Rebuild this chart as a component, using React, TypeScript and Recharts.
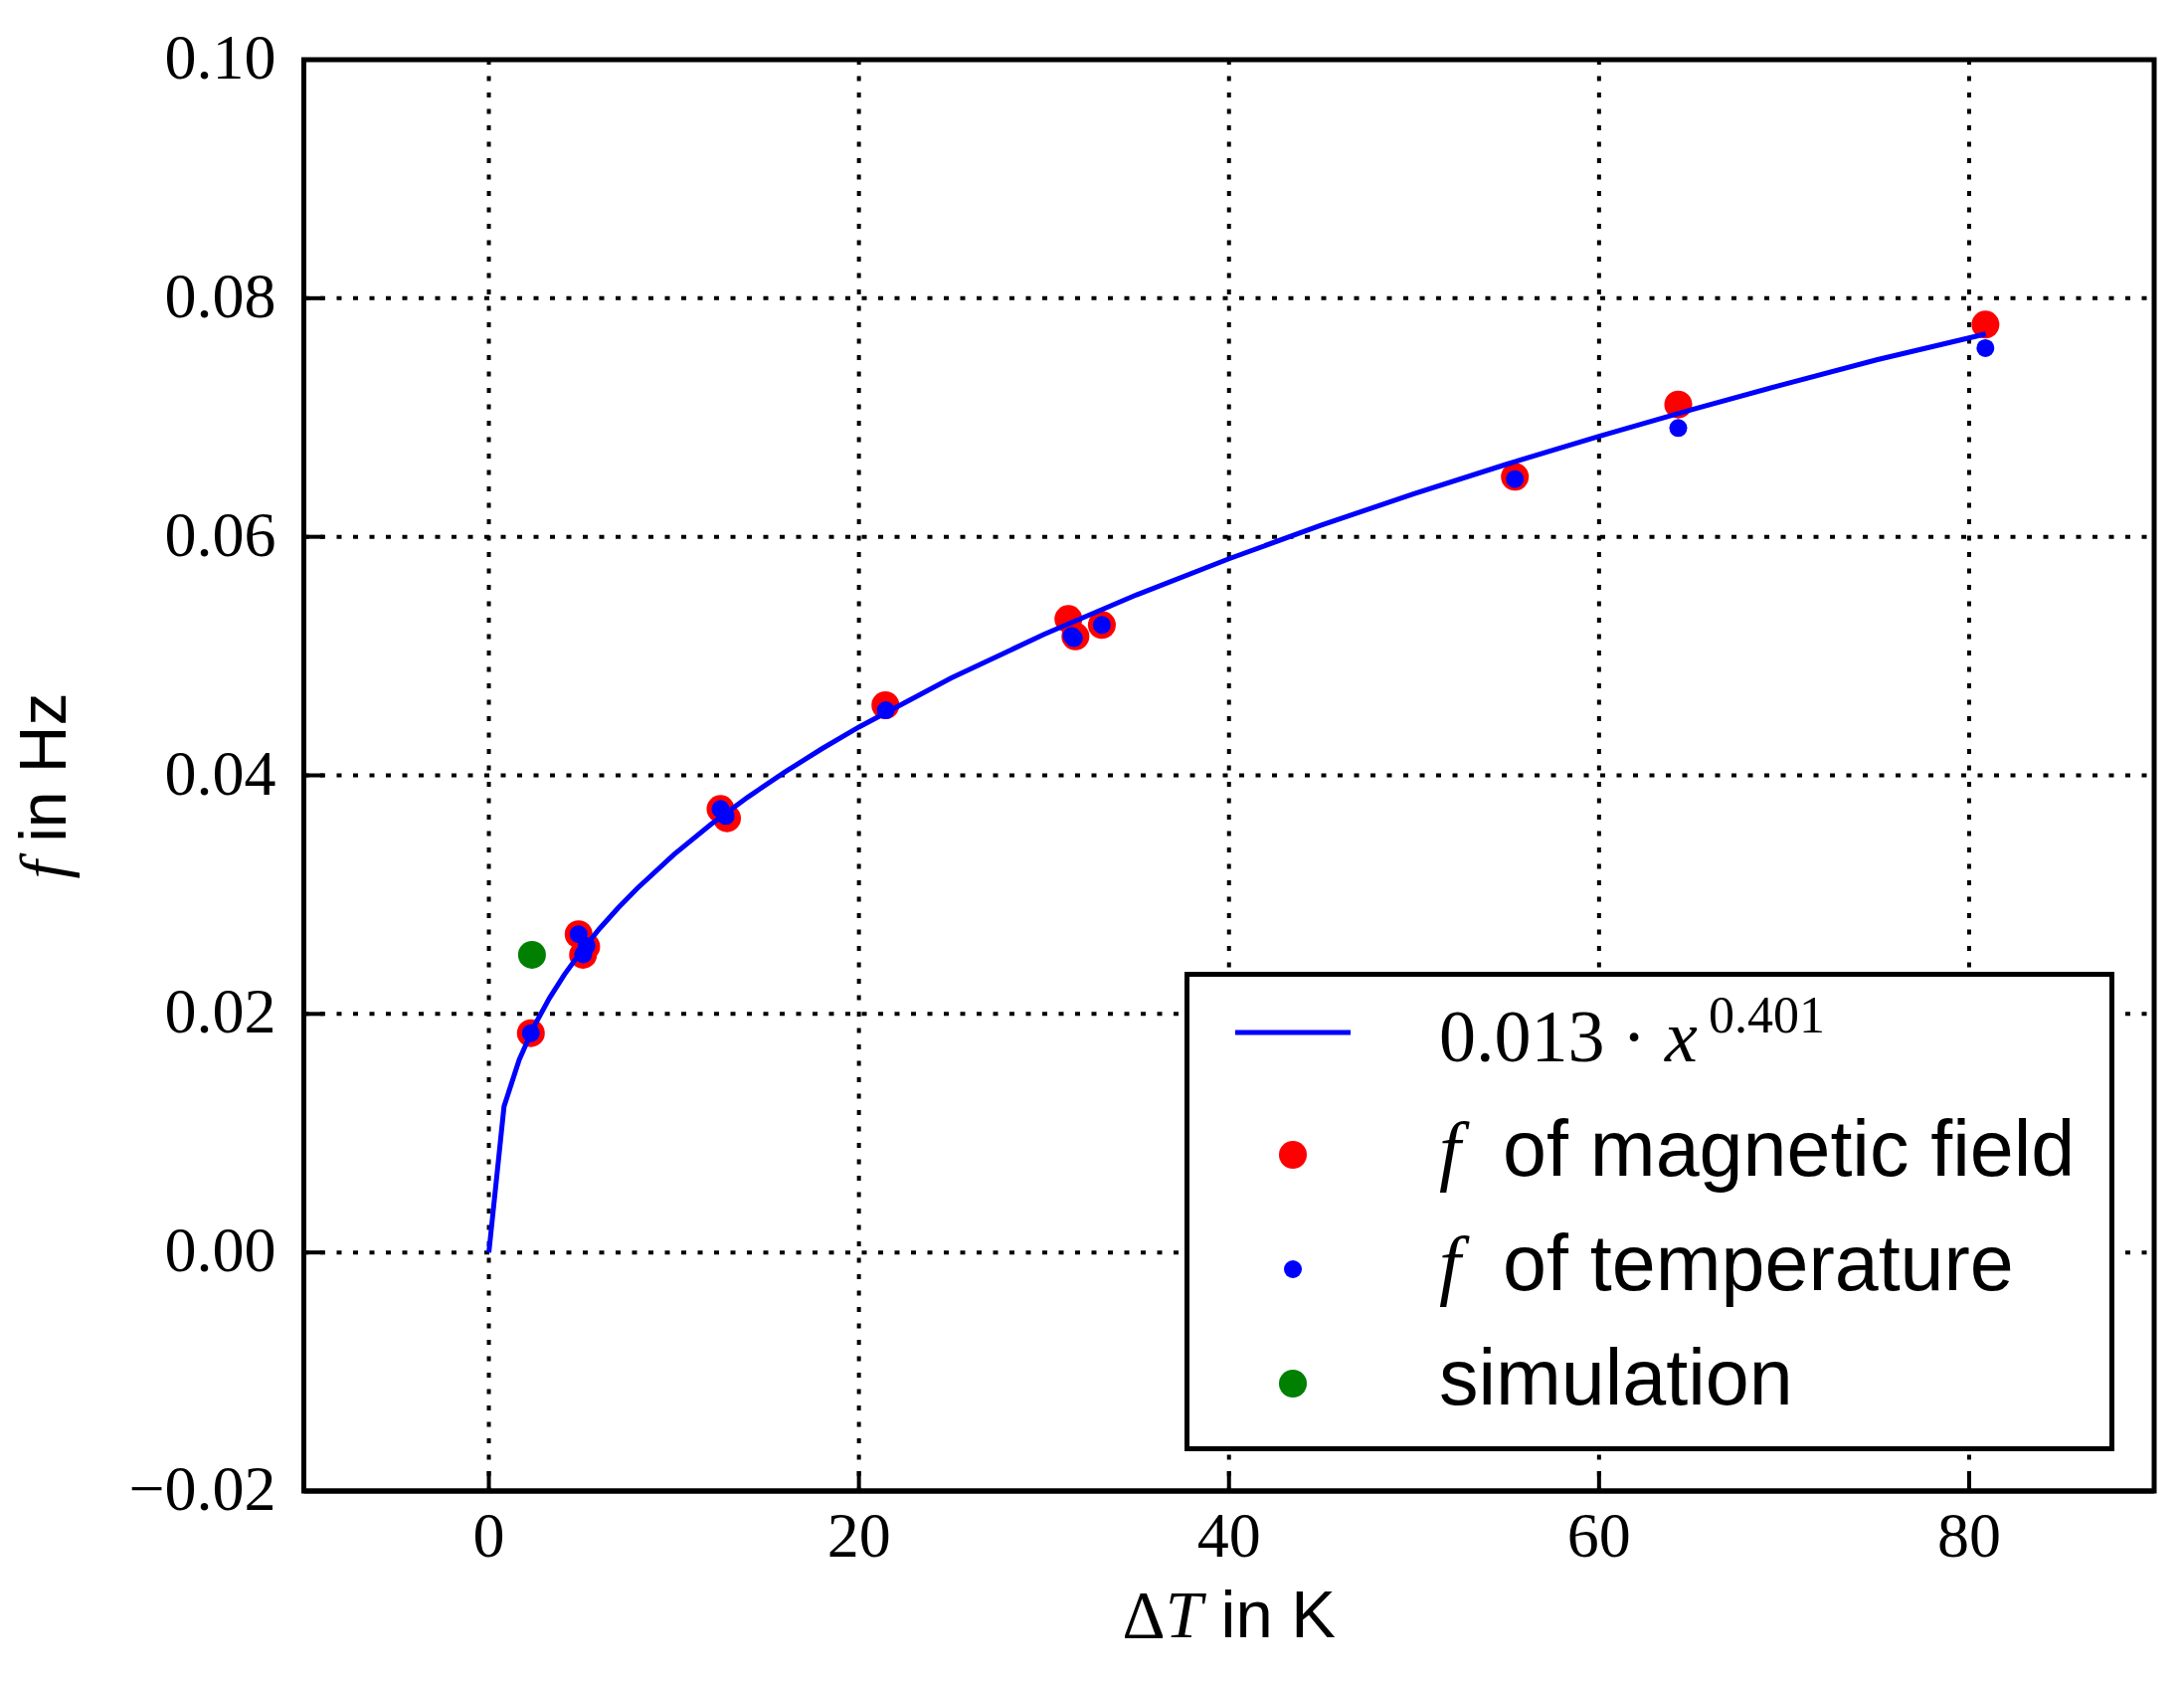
import React from 'react';
import { ComposedChart, XAxis, YAxis, CartesianGrid, Scatter, Line, Legend, ReferenceArea } from 'recharts';

// ---- data ----
const xTicks = [0, 20, 40, 60, 80];
const xTickLabels = ['0', '20', '40', '60', '80'];
const yTicks = [-0.02, 0, 0.02, 0.04, 0.06, 0.08, 0.1];
const yTickLabels = ['\u22120.02', '0.00', '0.02', '0.04', '0.06', '0.08', '0.10'];
const xDomain = [-10, 90];
const yDomain = [-0.02, 0.1];

const magX = [2.27, 4.85, 5.09, 5.26, 12.52, 12.87, 21.43, 31.32, 31.7, 33.13, 55.45, 64.28, 80.88];
const magY = [0.01839, 0.02668, 0.02495, 0.02564, 0.03718, 0.0364, 0.04588, 0.05311, 0.05165, 0.05261, 0.06503, 0.07109, 0.07779];

const tempX = [2.27, 4.85, 5.1, 5.28, 12.52, 12.8, 21.45, 31.5, 31.62, 33.13, 55.45, 64.28, 80.88];
const tempY = [0.01839, 0.02668, 0.025, 0.0257, 0.03718, 0.0366, 0.04546, 0.0517, 0.0515, 0.05261, 0.06484, 0.06912, 0.07582];

const simX = [2.33];
const simY = [0.02495];

const fitX = [0, 0.82, 1.64, 2.45, 3.27, 4.08, 5, 6, 7, 8, 10, 12, 14, 16, 18, 20, 25, 30, 35, 40, 45, 50, 55, 60, 65, 70, 75, 80.9];
const fitY = [0, 0.01224, 0.01616, 0.01898, 0.02131, 0.02329, 0.02526, 0.02718, 0.02891, 0.0305, 0.03336, 0.03589, 0.03818, 0.04028, 0.04223, 0.04405, 0.04817, 0.05182, 0.05513, 0.05816, 0.06098, 0.06361, 0.06608, 0.06843, 0.07066, 0.07279, 0.07484, 0.0770];

const magData = magX.map((x, i) => ({ x, y: magY[i] }));
const tempData = tempX.map((x, i) => ({ x, y: tempY[i] }));
const simData = simX.map((x, i) => ({ x, y: simY[i] }));
const fitData = fitX.map((x, i) => ({ x, y: fitY[i] }));

const SERIF = '"Liberation Serif", "DejaVu Serif", serif';
const SANS = '"Liberation Sans", Arial, sans-serif';

const nearestIdx = (arr: number[], v: number) => {
  let best = 0;
  arr.forEach((a, i) => { if (Math.abs(a - v) < Math.abs(arr[best] - v)) best = i; });
  return best;
};

const LeftTick = (p: any) => {
  const { x, y, payload } = p;
  const label = yTickLabels[nearestIdx(yTicks, payload.value)];
  return (
    <g>
      <line x1={x + 28} x2={x + 48} y1={y} y2={y} stroke="#000" strokeWidth={4} />
      <text x={x} y={y + 19} textAnchor="end" fontFamily={SERIF} fontSize={64} fill="#000">{label}</text>
    </g>
  );
};

const RightTick = (p: any) => {
  const { x, y } = p;
  return <line x1={x} x2={x - 20} y1={y} y2={y} stroke="#000" strokeWidth={4} />;
};

const BottomTick = (p: any) => {
  const { x, y, payload } = p;
  const label = xTickLabels[nearestIdx(xTicks, payload.value)];
  return (
    <g>
      <line x1={x} x2={x} y1={y} y2={y - 20} stroke="#000" strokeWidth={4} />
      <text x={x} y={y + 66} textAnchor="middle" fontFamily={SERIF} fontSize={64} fill="#000">{label}</text>
    </g>
  );
};

const TopTick = (p: any) => {
  const { x, y } = p;
  return <line x1={x} x2={x} y1={y} y2={y + 20} stroke="#000" strokeWidth={4} />;
};

const XLabel = (p: any) => {
  const vb = p.viewBox;
  const cx = vb.x + vb.width / 2;
  return (
    <text x={cx} y={vb.y + 147} textAnchor="middle" fontSize={67} fill="#000">
      <tspan fontFamily={SERIF}>{'\u0394'}</tspan>
      <tspan fontFamily={SERIF} fontStyle="italic">T</tspan>
      <tspan fontFamily={SANS}>{' in K'}</tspan>
    </text>
  );
};

const YLabel = (p: any) => {
  const vb = p.viewBox;
  const x = vb.x + 10.5;
  const y = 790;
  return (
    <text x={x} y={y} textAnchor="middle" fontSize={66} fill="#000" transform={`rotate(-90, ${x}, ${y})`}>
      <tspan fontFamily={SERIF} fontStyle="italic">f</tspan>
      <tspan fontFamily={SANS}>{' in Hz'}</tspan>
    </text>
  );
};

const legendRows = [
  { color: '#ff0000', r: 14, text: 'of magnetic field', f: true },
  { color: '#0000ff', r: 9, text: 'of temperature', f: true },
  { color: '#008000', r: 14, text: 'simulation', f: false },
];

const LegendBox = () => (
  <svg width={935} height={482} style={{ display: 'block' }}>
    <rect x={2.5} y={2.5} width={930} height={477} fill="#fff" stroke="#000" strokeWidth={5} />
    <line x1={51} x2={167} y1={61} y2={61} stroke="#0000ff" strokeWidth={5} />
    <text x={256} y={90} fontFamily={SERIF} fontSize={74} fill="#000">0.013</text>
    <text x={452} y={90} textAnchor="middle" fontFamily={SERIF} fontSize={74} fill="#000">{'\u00b7'}</text>
    <text x={483} y={90} fontFamily={SERIF} fontStyle="italic" fontSize={74} fill="#000">x</text>
    <text x={527} y={61} fontFamily={SERIF} fontSize={52} fill="#000">0.401</text>
    {legendRows.map((r, i) => {
      const cy = 184 + i * 115;
      const base = 205 + i * 115;
      return (
        <g key={i}>
          <circle cx={109} cy={cy} r={r.r} fill={r.color} />
          {r.f ? (
            <>
              <text x={256} y={base} fontFamily={SERIF} fontStyle="italic" fontSize={78} fill="#000">f</text>
              <text x={320} y={base} fontFamily={SANS} fontSize={79} fill="#000">{r.text}</text>
            </>
          ) : (
            <text x={256} y={base} fontFamily={SANS} fontSize={79} fill="#000">{r.text}</text>
          )}
        </g>
      );
    })}
  </svg>
);

const dotShape = (r: number, color: string) => (p: any) => (
  <circle cx={p.cx} cy={p.cy} r={r} fill={color} />
);
const noShape = () => <g />;

export default function App() {
  return (
    <div style={{ position: 'absolute', left: 0, top: 0, width: 2196, height: 1692, background: '#fff' }}>
      <ComposedChart width={2196} height={1692} margin={{ top: 60, right: 30, bottom: 43, left: 55.5 }}>
        <CartesianGrid stroke="#000" strokeWidth={4} strokeDasharray="5 11.5" />
        <XAxis
          xAxisId={0}
          dataKey="x"
          type="number"
          domain={xDomain}
          ticks={xTicks}
          interval={0}
          allowDataOverflow
          height={150}
          tickSize={0}
          tickMargin={0}
          tickLine={false}
          axisLine={{ stroke: '#000', strokeWidth: 5 }}
          tick={<BottomTick />}
          label={{ content: XLabel }}
        />
        <XAxis
          xAxisId="top"
          orientation="top"
          dataKey="x"
          type="number"
          domain={xDomain}
          ticks={xTicks}
          interval={0}
          allowDataOverflow
          height={0}
          tickSize={0}
          tickMargin={0}
          tickLine={false}
          axisLine={{ stroke: '#000', strokeWidth: 5 }}
          tick={<TopTick />}
        />
        <YAxis
          yAxisId={0}
          dataKey="y"
          type="number"
          domain={yDomain}
          ticks={yTicks}
          interval={0}
          allowDataOverflow
          width={250}
          tickSize={0}
          tickMargin={28}
          tickLine={false}
          axisLine={{ stroke: '#000', strokeWidth: 5 }}
          tick={<LeftTick />}
          label={{ content: YLabel }}
        />
        <YAxis
          yAxisId="right"
          orientation="right"
          dataKey="y"
          type="number"
          domain={yDomain}
          ticks={yTicks}
          interval={0}
          allowDataOverflow
          width={0}
          tickSize={0}
          tickMargin={0}
          tickLine={false}
          axisLine={{ stroke: '#000', strokeWidth: 5 }}
          tick={<RightTick />}
        />
        <ReferenceArea
          x1={xDomain[0]}
          x2={xDomain[1]}
          y1={yDomain[0]}
          y2={yDomain[1]}
          fill="none"
          fillOpacity={0}
          stroke="#000"
          strokeWidth={5}
          ifOverflow="visible"
        />
        <Scatter name="mirror" xAxisId="top" yAxisId="right" data={simData} dataKey="y" shape={noShape} legendType="none" isAnimationActive={false} />
        <Scatter name="mag" data={magData} dataKey="y" fill="#ff0000" shape={dotShape(14, '#ff0000')} isAnimationActive={false} />
        <Scatter name="temp" data={tempData} dataKey="y" fill="#0000ff" shape={dotShape(9, '#0000ff')} isAnimationActive={false} />
        <Scatter name="sim" data={simData} dataKey="y" fill="#008000" shape={dotShape(14, '#008000')} isAnimationActive={false} />
        <Line
          data={fitData}
          dataKey="y"
          type="linear"
          stroke="#0000ff"
          strokeWidth={5}
          dot={false}
          activeDot={false}
          isAnimationActive={false}
          zIndex={650}
        />
        <Legend
          content={<LegendBox />}
          layout="vertical"
          align="center"
          verticalAlign="middle"
          wrapperStyle={{ left: 1191, top: 977, width: 935, height: 482 }}
        />
      </ComposedChart>
    </div>
  );
}
